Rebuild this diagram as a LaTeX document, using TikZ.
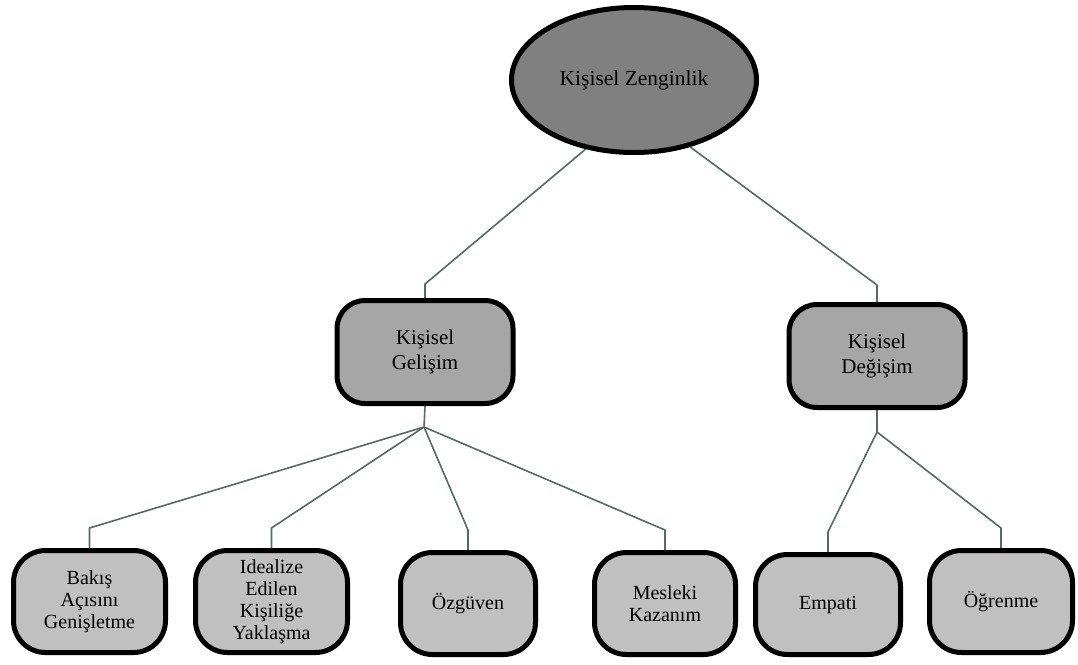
\documentclass[tikz,border=0pt]{standalone}
\usepackage{fontspec}
\setmainfont{Liberation Serif}
\usetikzlibrary{shapes.geometric}
\definecolor{rootfill}{RGB}{128,128,128}
\definecolor{midfill}{RGB}{166,166,166}
\definecolor{leaffill}{RGB}{192,192,192}
\definecolor{linkcol}{RGB}{88,104,100}
\begin{document}
\begin{tikzpicture}[x=1pt,y=-1pt]
\tikzset{
  rootnode/.style={ellipse,draw=black,fill=rootfill,line width=5pt,minimum width=245pt,minimum height=145pt,inner sep=0pt,font=\fontsize{21.5}{25}\selectfont},
  midnode/.style={rectangle,rounded corners=28pt,draw=black,fill=midfill,line width=5pt,minimum width=176pt,minimum height=103pt,inner sep=0pt,align=center,font=\fontsize{21}{25}\selectfont},
  leafnode/.style={rectangle,rounded corners=32pt,draw=black,fill=leaffill,line width=5pt,minimum height=102pt,inner sep=0pt,align=center,font=\fontsize{20}{22}\selectfont},
  link/.style={draw=linkcol,line width=1.6pt,line join=round}
}
\useasboundingbox (0,0) rectangle (1078,664);
\node[rootnode] (n_root) at (634,80) {Kişisel Zenginlik};
\node[midnode] (n_gel) at (425,352) {Kişisel\\Gelişim};
\node[midnode] (n_deg) at (877,356) {Kişisel\\Değişim};
\node[leafnode,minimum width=152pt] (n_bak) at (89.5,601.5) {Bakış\\Açısını\\Genişletme};
\node[leafnode,minimum width=152pt] (n_ide) at (271.5,601.5) {Idealize\\Edilen\\Kişiliğe\\Yaklaşma};
\node[leafnode,minimum width=135pt] (n_ozg) at (468,603.5) {Özgüven};
\node[leafnode,minimum width=141pt] (n_mes) at (665,603.5) {Mesleki\\Kazanım};
\node[leafnode,minimum width=145pt,minimum height=100pt] (n_emp) at (828,604.5) {Empati};
\node[leafnode,minimum width=143pt] (n_ogr) at (1001,601.5) {Öğrenme};
\coordinate (j_gel) at (424,427);
\coordinate (j_deg) at (877,432);
% top level
\draw[link] (n_root.235) -- ([yshift=14pt]n_gel.north) -- (n_gel.north);
\draw[link] (n_root.310) -- ([yshift=17pt]n_deg.north) -- (n_deg.north);
% Kisisel Gelisim
\draw[link] (n_gel.south) -- (j_gel);
\draw[link] (j_gel) -- ([yshift=20pt]n_bak.north) -- (n_bak.north);
\draw[link] (j_gel) -- ([yshift=20pt]n_ide.north) -- (n_ide.north);
\draw[link] (j_gel) -- ([yshift=20pt]n_ozg.north) -- (n_ozg.north);
\draw[link] (j_gel) -- ([yshift=20pt]n_mes.north) -- (n_mes.north);
% Kisisel Degisim
\draw[link] (n_deg.south) -- (j_deg);
\draw[link] (j_deg) -- ([yshift=20pt]n_emp.north) -- (n_emp.north);
\draw[link] (j_deg) -- ([yshift=20pt]n_ogr.north) -- (n_ogr.north);
\end{tikzpicture}
\end{document}
